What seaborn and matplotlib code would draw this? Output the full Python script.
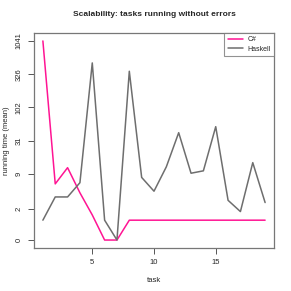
import numpy as np
import pandas as pd
import matplotlib
matplotlib.use('Agg')
import matplotlib.pyplot as plt
import seaborn as sns

# values (running time, mean)
tasks = list(range(1, 20))
csharp = [1041, 6.1, 11.5, 4.2, 1.4, 0, 0, 1, 1, 1, 1, 1, 1, 1, 1, 1, 1, 1, 1]
haskell = [1.0, 3.5, 3.5, 6.4, 483, 1.0, 0, 361, 7.9, 4.5, 11.9, 41.4, 9.3, 10.2, 51.3, 3.0, 1.7, 13.9, 2.7]
y_ticks = [0, 2, 9, 31, 102, 326, 1041]
x_ticks = [5, 10, 15]

df = pd.DataFrame({
    'task': tasks * 2,
    'time': csharp + haskell,
    'lang': ['C#'] * len(tasks) + ['Haskell'] * len(tasks),
})

sns.set_style('white')
plt.rcParams['font.family'] = ['Liberation Sans', 'DejaVu Sans']

fig = plt.figure(figsize=(2.91, 2.91), dpi=100)
ax = fig.add_axes([34 / 291, 1 - 248 / 291, 240 / 291, 215 / 291])

sns.lineplot(data=df, x='task', y='time', hue='lang',
             palette={'C#': '#ff1493', 'Haskell': '#6e6e6e'},
             linewidth=1.1, ax=ax, legend=True)

# log(x+1) axis, ticks evenly spaced
ax.set_yscale('function', functions=(np.log1p, np.expm1))
ax.set_xlim(0.28, 19.72)
lo, hi = np.log1p(0), np.log1p(1041)
pad = (hi - lo) * 0.04
ax.set_ylim(np.expm1(lo - pad), np.expm1(hi + pad))
ax.set_yticks(y_ticks)
ax.set_yticklabels([str(t) for t in y_ticks], rotation=90, va='center')
ax.set_xticks(x_ticks)
ax.minorticks_off()

ax.tick_params(axis='both', length=4, width=0.7, color='#555555', labelsize=5.5,
               direction='out', pad=4, left=True, bottom=True)
for s in ax.spines.values():
    s.set_color('#777777')
    s.set_linewidth(0.9)

ax.set_xlabel('task', fontsize=5.5, labelpad=8)
ax.set_ylabel('running time (mean)', fontsize=5.5, labelpad=4)
ax.set_title('Scalability: tasks running without errors', fontsize=6, fontweight='bold', pad=12)

leg = ax.legend(loc='upper right', fontsize=5, frameon=True, fancybox=False,
                borderaxespad=0, handlelength=2.2, handletextpad=0.6,
                borderpad=0.5, labelspacing=0.3)
leg.get_frame().set_edgecolor('#777777')
leg.get_frame().set_linewidth(0.8)

fig.savefig('out.png', dpi=100)
